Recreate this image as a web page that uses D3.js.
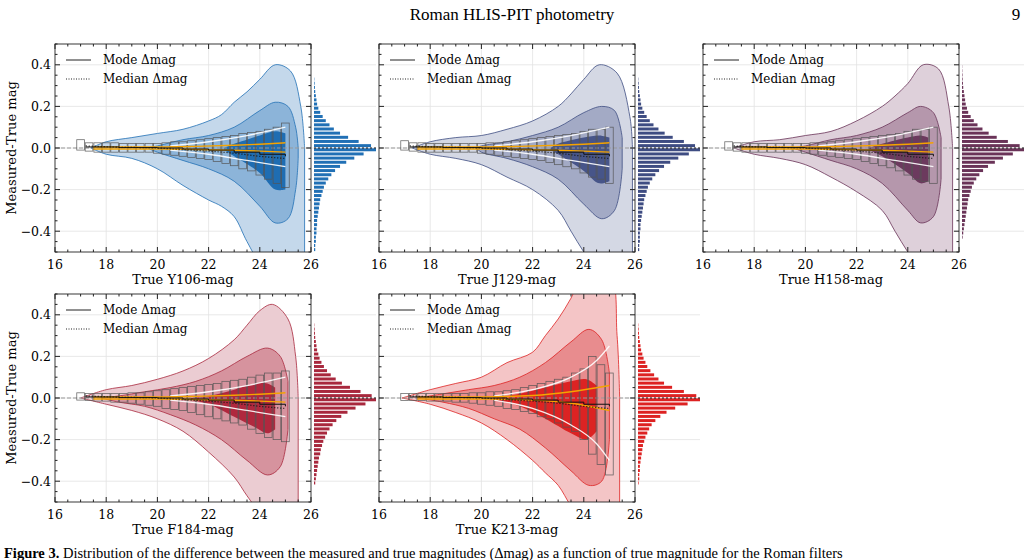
<!DOCTYPE html>
<html><head><meta charset="utf-8">
<script src="https://cdn.jsdelivr.net/npm/d3@7"></script>
<style>body{margin:0;background:#fff}</style></head>
<body><svg id="c" width="1031" height="560"></svg>
<script>
const bands = ["Y106","J129","H158","F184","K213"];
const boxCenters = [17.0,17.33,17.67,18.0,18.33,18.67,19.0,19.33,19.67,20.0,20.33,20.67,21.0,21.33,21.67,22.0,22.33,22.67,23.0,23.33,23.67,24.0,24.33,24.67,25.0];
const xTicks = [16,18,20,22,24,26];
const yTicks = [-0.4,-0.2,0.0,0.2,0.4];
const histBins = [-0.49,-0.47,-0.45,-0.43,-0.41,-0.39,-0.37,-0.35,-0.33,-0.31,-0.29,-0.27,-0.25,-0.23,-0.21,-0.19,-0.17,-0.15,-0.13,-0.11,-0.09,-0.07,-0.05,-0.03,-0.01,0.01,0.03,0.05,0.07,0.09,0.11,0.13,0.15,0.17,0.19,0.21,0.23,0.25,0.27,0.29,0.31,0.33,0.35,0.37,0.39,0.41,0.43,0.45,0.47,0.49];

const outerY106 = [[17.4,0,0],[18,0.03,-0.03],[19,0.05,-0.05],[20,0.07,-0.1],[21,0.09,-0.18],[22,0.13,-0.25],[22.5,0.16,-0.28],[23,0.22,-0.33],[23.5,0.27,-0.45],[24,0.33,-0.55],[24.6,0.40,-0.6],[25.2,0.37,-0.6],[25.6,0.2,-0.6],[25.75,0,-0.6]];
const midY106 = [[19.6,0,0],[20,0.01,-0.02],[21,0.04,-0.06],[22,0.06,-0.1],[23,0.1,-0.16],[24,0.18,-0.28],[24.6,0.22,-0.36],[25.1,0.2,-0.34],[25.4,0.1,-0.2],[25.5,0,-0.05]];
const innerY106 = [[22.6,0,-0.01],[23,0.02,-0.04],[24,0.06,-0.12],[24.6,0.08,-0.2],[25,0.07,-0.2]];
const outerJ129 = [[17.3,0,0],[18,0.03,-0.03],[19,0.05,-0.05],[20,0.06,-0.08],[21,0.09,-0.14],[22,0.13,-0.2],[23,0.2,-0.3],[23.5,0.26,-0.4],[24,0.33,-0.5],[24.6,0.4,-0.6],[25.3,0.36,-0.6],[25.8,0.15,-0.6],[25.9,0,-0.6]];
const midJ129 = [[19.8,0,0],[20,0.01,-0.02],[21,0.03,-0.05],[22,0.06,-0.09],[23,0.1,-0.15],[24,0.17,-0.27],[24.7,0.2,-0.34],[25.2,0.18,-0.3],[25.5,0.05,-0.1]];
const innerJ129 = [[22.7,0,-0.01],[23,0.02,-0.03],[24,0.05,-0.11],[24.6,0.06,-0.17],[25,0.05,-0.16]];
const outerH158 = [[17.2,0,0],[18,0.03,-0.03],[19,0.04,-0.05],[20,0.06,-0.08],[21,0.08,-0.14],[22,0.13,-0.21],[23,0.2,-0.3],[23.5,0.25,-0.4],[24,0.31,-0.5],[24.6,0.4,-0.6],[25.2,0.38,-0.6],[25.6,0.2,-0.6],[25.75,0,-0.6]];
const midH158 = [[19.5,0,0],[20,0.01,-0.02],[21,0.04,-0.06],[22,0.06,-0.1],[23,0.1,-0.17],[24,0.17,-0.3],[24.5,0.2,-0.36],[25,0.17,-0.33],[25.3,0.05,-0.15]];
const innerH158 = [[22.5,0,-0.01],[23,0.02,-0.04],[24,0.05,-0.12],[24.5,0.06,-0.17],[24.8,0.05,-0.16]];
const outerF184 = [[17.0,0,0],[18,0.04,-0.03],[19,0.06,-0.06],[20,0.09,-0.1],[21,0.13,-0.16],[22,0.19,-0.26],[23,0.28,-0.38],[23.5,0.35,-0.47],[24,0.42,-0.55],[24.5,0.45,-0.6],[25.1,0.38,-0.6],[25.4,0.2,-0.6],[25.5,0,-0.6]];
const midF184 = [[17.8,0,0],[18.5,0.01,-0.02],[19.5,0.03,-0.04],[20.5,0.05,-0.08],[21.5,0.08,-0.13],[22.5,0.13,-0.2],[23.5,0.2,-0.3],[24.3,0.24,-0.37],[24.8,0.2,-0.33],[25.1,0.08,-0.15]];
const innerF184 = [[21.3,0,-0.01],[22,0.01,-0.03],[23,0.04,-0.09],[23.8,0.07,-0.14],[24.3,0.07,-0.17],[24.6,0.05,-0.15]];
const outerK213 = [[16.9,0,0],[18,0.04,-0.03],[19,0.07,-0.07],[20,0.1,-0.12],[21,0.17,-0.2],[22,0.22,-0.3],[22.5,0.3,-0.36],[23,0.38,-0.42],[23.5,0.48,-0.52],[24,0.6,-0.6],[25,0.6,-0.6],[25.3,0.3,-0.6],[25.4,0,-0.6]];
const midK213 = [[17.5,0,0],[18.5,0.02,-0.02],[19.5,0.04,-0.05],[20.5,0.06,-0.1],[21.5,0.1,-0.15],[22.5,0.17,-0.24],[23.5,0.27,-0.35],[24.2,0.33,-0.42],[24.7,0.28,-0.4],[25,0.12,-0.2]];
const innerK213 = [[20.5,0,-0.01],[21.5,0.02,-0.04],[22.5,0.05,-0.1],[23.5,0.08,-0.17],[24.1,0.09,-0.2],[24.5,0.06,-0.16]];

const boxHiY106 = [0.04,0.025,0.025,0.025,0.025,0.022,0.022,0.022,0.022,0.022,0.025,0.03,0.03,0.035,0.04,0.045,0.05,0.055,0.06,0.07,0.075,0.08,0.09,0.1,0.12];
const boxLoY106 = [-0.01,-0.015,-0.02,-0.02,-0.02,-0.02,-0.02,-0.02,-0.02,-0.025,-0.03,-0.035,-0.04,-0.045,-0.05,-0.055,-0.065,-0.075,-0.085,-0.1,-0.11,-0.13,-0.15,-0.17,-0.19];
const boxHiJ129 = [0.035,0.025,0.025,0.022,0.022,0.022,0.022,0.022,0.022,0.022,0.025,0.025,0.03,0.035,0.04,0.045,0.05,0.055,0.06,0.065,0.07,0.08,0.09,0.09,0.1];
const boxLoJ129 = [-0.01,-0.015,-0.02,-0.02,-0.02,-0.02,-0.02,-0.02,-0.02,-0.025,-0.03,-0.035,-0.04,-0.045,-0.05,-0.055,-0.06,-0.07,-0.08,-0.09,-0.1,-0.12,-0.14,-0.15,-0.17];
const boxHiH158 = [0.03,0.025,0.025,0.022,0.022,0.022,0.022,0.022,0.022,0.022,0.025,0.025,0.03,0.035,0.04,0.045,0.05,0.055,0.06,0.065,0.07,0.08,0.09,0.09,0.1];
const boxLoH158 = [-0.01,-0.015,-0.02,-0.02,-0.02,-0.02,-0.02,-0.02,-0.02,-0.025,-0.03,-0.035,-0.04,-0.045,-0.05,-0.055,-0.065,-0.075,-0.085,-0.095,-0.11,-0.13,-0.15,-0.16,-0.17];
const boxHiF184 = [0.025,0.022,0.022,0.022,0.022,0.022,0.025,0.025,0.03,0.035,0.04,0.045,0.05,0.055,0.06,0.065,0.07,0.08,0.085,0.09,0.1,0.11,0.12,0.12,0.13];
const boxLoF184 = [-0.01,-0.012,-0.015,-0.015,-0.02,-0.02,-0.025,-0.03,-0.035,-0.04,-0.05,-0.055,-0.06,-0.07,-0.08,-0.09,-0.1,-0.11,-0.12,-0.13,-0.15,-0.17,-0.19,-0.2,-0.21];
const boxHiK213 = [0.022,0.022,0.022,0.022,0.022,0.022,0.022,0.022,0.025,0.025,0.03,0.03,0.035,0.04,0.05,0.06,0.07,0.08,0.09,0.1,0.12,0.14,0.2,0.16,0.12];
const boxLoK213 = [-0.012,-0.012,-0.012,-0.015,-0.015,-0.015,-0.02,-0.02,-0.025,-0.03,-0.035,-0.04,-0.05,-0.055,-0.065,-0.075,-0.09,-0.1,-0.12,-0.14,-0.16,-0.2,-0.27,-0.32,-0.37];

const modeLine = [[17.2,0.005],[18.5,0.002],[20,0],[21,-0.005],[22,-0.01],[23,-0.02],[24,-0.03],[25,-0.04]];
const medianLine = [[17.2,0.01],[18.5,0.004],[20,0],[21,-0.008],[22,-0.015],[23,-0.025],[24,-0.04],[25,-0.05]];
const orangeHi = [[17.5,0.005],[20,0.005],[21.5,0.008],[23,0.013],[24,0.018],[25,0.025]];
const orangeLo = [[17.5,-0.005],[20,-0.005],[21.5,-0.007],[23,-0.011],[24,-0.015],[25,-0.02]];
const whiteHiA = [[20.5,0.01],[22,0.03],[23.5,0.06],[25,0.1]];
const whiteLoA = [[20.5,-0.01],[22,-0.03],[23.5,-0.06],[25,-0.09]];
const whiteHiK = [[20.5,0.01],[22,0.04],[23.5,0.1],[24.5,0.18],[25,0.25]];
const whiteLoK = [[20.5,-0.01],[22,-0.05],[23.5,-0.13],[24.5,-0.22],[25,-0.3]];
const orangeHiK = [[17.5,0.005],[20,0.005],[22,0.012],[23.5,0.03],[25,0.06]];
const orangeLoK = [[17.5,-0.005],[20,-0.005],[22,-0.01],[23.5,-0.025],[25,-0.06]];

const histY106 = [0.02,0.02,0.03,0.03,0.04,0.04,0.05,0.05,0.06,0.07,0.08,0.09,0.1,0.12,0.14,0.16,0.19,0.23,0.28,0.34,0.42,0.52,0.65,0.8,1.0,0.92,0.72,0.55,0.42,0.32,0.25,0.19,0.14,0.1,0.07,0.05,0.04,0.03,0.02,0.015,0.01,0.005,0,0,0,0,0,0,0,0];
const histJ129 = [0.02,0.02,0.03,0.03,0.03,0.04,0.04,0.05,0.06,0.07,0.08,0.09,0.1,0.12,0.14,0.16,0.19,0.23,0.28,0.34,0.42,0.52,0.65,0.82,1.0,0.92,0.74,0.56,0.43,0.33,0.25,0.19,0.14,0.1,0.07,0.05,0.04,0.03,0.02,0.015,0.01,0.005,0,0,0,0,0,0,0,0];
const histH158 = [0,0,0,0.01,0.02,0.03,0.04,0.05,0.06,0.07,0.08,0.09,0.1,0.12,0.14,0.16,0.19,0.23,0.28,0.34,0.42,0.53,0.66,0.82,1.0,0.93,0.74,0.56,0.43,0.33,0.25,0.19,0.14,0.1,0.08,0.06,0.05,0.04,0.03,0.02,0.015,0.01,0.008,0.005,0.003,0,0,0,0,0];
const histF184 = [0,0,0,0,0.02,0.03,0.04,0.05,0.06,0.07,0.08,0.1,0.11,0.13,0.15,0.18,0.21,0.25,0.3,0.36,0.44,0.54,0.67,0.83,1.0,0.93,0.75,0.58,0.45,0.35,0.27,0.21,0.16,0.12,0.09,0.07,0.05,0.04,0.03,0.02,0.015,0.01,0.005,0,0,0,0,0,0,0];
const histK213 = [0,0,0,0,0.01,0.02,0.02,0.03,0.03,0.04,0.05,0.06,0.07,0.08,0.1,0.12,0.15,0.18,0.22,0.28,0.36,0.46,0.6,0.8,1.0,0.94,0.74,0.55,0.42,0.33,0.26,0.2,0.15,0.12,0.09,0.07,0.05,0.04,0.03,0.02,0.015,0.01,0.005,0,0,0,0,0,0,0];

const panels = [
 {band:"Y106",col:0,row:0,outer:outerY106,mid:midY106,inner:innerY106,hi:boxHiY106,lo:boxLoY106,hist:histY106,c:["#c4d8eb","#8cb4d9","#1f6db2","#2170b5"],wh:whiteHiA,wl:whiteLoA,oh:orangeHi,ol:orangeLo},
 {band:"J129",col:1,row:0,outer:outerJ129,mid:midJ129,inner:innerJ129,hi:boxHiJ129,lo:boxLoJ129,hist:histJ129,c:["#d4d8e4","#a3aac5","#475589","#3e4c82"],wh:whiteHiA,wl:whiteLoA,oh:orangeHi,ol:orangeLo},
 {band:"H158",col:2,row:0,outer:outerH158,mid:midH158,inner:innerH158,hi:boxHiH158,lo:boxLoH158,hist:histH158,c:["#ded0da","#b597ac","#6c3a5e","#6a3358"],wh:whiteHiA,wl:whiteLoA,oh:orangeHi,ol:orangeLo},
 {band:"F184",col:0,row:1,outer:outerF184,mid:midF184,inner:innerF184,hi:boxHiF184,lo:boxLoF184,hist:histF184,c:["#ebccd2","#d6939e","#b0283e","#a8283d"],wh:whiteHiA,wl:whiteLoA,oh:orangeHi,ol:orangeLo},
 {band:"K213",col:1,row:1,outer:outerK213,mid:midK213,inner:innerK213,hi:boxHiK213,lo:boxLoK213,hist:histK213,c:["#f4c5c6","#e88c8e","#dc2323","#dd2222"],wh:whiteHiK,wl:whiteLoK,oh:orangeHiK,ol:orangeLoK}
];

const svg = d3.select("#c");
const serif = "DejaVu Serif";
svg.append("text").attr("x",512).attr("y",20).attr("text-anchor","middle").attr("font-family","Liberation Serif").attr("font-size",17).text("Roman HLIS-PIT photometry");
svg.append("text").attr("x",1016).attr("y",20).attr("text-anchor","middle").attr("font-family","Liberation Serif").attr("font-size",17).text("9");
svg.append("text").attr("x",4).attr("y",558).attr("font-family","Liberation Serif").attr("font-size",14.5)
  .html('<tspan font-weight="bold">Figure 3.</tspan>  Distribution of the difference between the measured and true magnitudes (Δmag) as a function of true magnitude for the Roman filters');

const colX = [55,379,703], rowY = [44,294], W = 256, H = 208, HW = 65;

panels.forEach((p,i)=>{
  const x0 = colX[p.col], y0 = rowY[p.row];
  const x = d3.scaleLinear().domain([16,26]).range([x0,x0+W]);
  const y = d3.scaleLinear().domain([-0.5,0.5]).range([y0+H,y0]);
  const g = svg.append("g");
  const cid = "clip"+i;
  svg.append("defs").append("clipPath").attr("id",cid).append("rect").attr("x",x0).attr("y",y0).attr("width",W).attr("height",H);
  g.selectAll(".gx").data(xTicks.slice(1,-1)).join("line").attr("x1",d=>x(d)).attr("x2",d=>x(d)).attr("y1",y0).attr("y2",y0+H).attr("stroke","#e2e2e2").attr("stroke-width",0.8);
  g.selectAll(".gy").data(yTicks).join("line").attr("x1",x0).attr("x2",x0+W+HW).attr("y1",d=>y(d)).attr("y2",d=>y(d)).attr("stroke","#e2e2e2").attr("stroke-width",0.8);
  const pc = g.append("g").attr("clip-path",`url(#${cid})`);
  const area = d3.area().x(d=>x(d[0])).y0(d=>y(d[2])).y1(d=>y(d[1])).curve(d3.curveCatmullRom);
  pc.append("path").attr("d",area(p.outer)).attr("fill",p.c[0]).attr("stroke",p.c[3]).attr("stroke-width",0.8);
  pc.append("path").attr("d",area(p.mid)).attr("fill",p.c[1]).attr("stroke",p.c[3]).attr("stroke-width",0.8);
  pc.append("path").attr("d",area(p.inner)).attr("fill",p.c[2]);
  pc.append("line").attr("x1",x0).attr("x2",x0+W).attr("y1",y(0)).attr("y2",y(0)).attr("stroke","#999").attr("stroke-dasharray","4,2").attr("stroke-width",1);
  const bw = x(16.3)-x(16);
  boxCenters.forEach((c,k)=>{
    pc.append("rect").attr("x",x(c)-bw/2).attr("width",bw).attr("y",y(p.hi[k])).attr("height",y(p.lo[k])-y(p.hi[k]))
      .attr("fill","none").attr("stroke","#555").attr("stroke-width",0.8).attr("opacity",0.85);
  });
  const ln = d3.line().x(d=>x(d[0])).y(d=>y(d[1])).curve(d3.curveMonotoneX);
  pc.append("path").attr("d",ln(p.wh)).attr("fill","none").attr("stroke","#fff").attr("stroke-width",1.3).attr("opacity",0.9);
  pc.append("path").attr("d",ln(p.wl)).attr("fill","none").attr("stroke","#fff").attr("stroke-width",1.3).attr("opacity",0.9);
  pc.append("path").attr("d",ln(p.oh)).attr("fill","none").attr("stroke","#f5a300").attr("stroke-width",1.4);
  pc.append("path").attr("d",ln(p.ol)).attr("fill","none").attr("stroke","#f5a300").attr("stroke-width",1.4);
  pc.append("path").attr("d",d3.line().x(d=>x(d[0])).y(d=>y(d[1])).curve(d3.curveStepAfter)(modeLine)).attr("fill","none").attr("stroke","#111").attr("stroke-width",1);
  pc.append("path").attr("d",ln(medianLine)).attr("fill","none").attr("stroke","#111").attr("stroke-width",1.2).attr("stroke-dasharray","1,2");
  g.append("rect").attr("x",x0).attr("y",y0).attr("width",W).attr("height",H).attr("fill","none").attr("stroke","#222").attr("stroke-width",0.9);
  const minorX = d3.range(16,26.01,0.5), minorY = d3.range(-0.5,0.501,0.05);
  minorX.forEach(v=>{const big = Math.abs(v%2)<1e-6; const L=big?5:2.5;
    g.append("line").attr("x1",x(v)).attr("x2",x(v)).attr("y1",y0+H).attr("y2",y0+H-L).attr("stroke","#222");
    g.append("line").attr("x1",x(v)).attr("x2",x(v)).attr("y1",y0).attr("y2",y0+L).attr("stroke","#222");});
  minorY.forEach(v=>{const big = yTicks.some(t=>Math.abs(t-v)<1e-6); const L=big?5:2.5;
    g.append("line").attr("x1",x0).attr("x2",x0+L).attr("y1",y(v)).attr("y2",y(v)).attr("stroke","#222");
    g.append("line").attr("x1",x0+W).attr("x2",x0+W-L).attr("y1",y(v)).attr("y2",y(v)).attr("stroke","#222");});
  g.selectAll(".xl").data(xTicks).join("text").attr("x",d=>x(d)).attr("y",y0+H+17).attr("text-anchor","middle").attr("font-family",serif).attr("font-size",12.5).text(d=>d);
  g.append("text").attr("x",x(21)).attr("y",y0+H+32).attr("text-anchor","middle").attr("font-family",serif).attr("font-size",13).text(`True ${p.band}-mag`);
  if(p.col===0){
    g.selectAll(".yl").data(yTicks).join("text").attr("x",x0-4).attr("y",d=>y(d)+4.5).attr("text-anchor","end").attr("font-family",serif).attr("font-size",12.5).text(d=>(d<0?"−":"")+Math.abs(d).toFixed(1));
    g.append("text").attr("transform",`translate(16,${y0+H/2}) rotate(-90)`).attr("text-anchor","middle").attr("font-family",serif).attr("font-size",13).text("Measured-True mag");
  }
  g.append("line").attr("x1",x0+11).attr("x2",x0+36).attr("y1",y0+16).attr("y2",y0+16).attr("stroke","#222");
  g.append("line").attr("x1",x0+11).attr("x2",x0+36).attr("y1",y0+35).attr("y2",y0+35).attr("stroke","#222").attr("stroke-dasharray","1,1.5");
  g.append("text").attr("x",x0+48).attr("y",y0+20).attr("font-family",serif).attr("font-size",12).text("Mode Δmag");
  g.append("text").attr("x",x0+48).attr("y",y0+39).attr("font-family",serif).attr("font-size",12).text("Median Δmag");
  const hx = d3.scaleLinear().domain([0,1]).range([x0+W+3,x0+W+HW]);
  const bh = y(0)-y(0.02);
  g.selectAll(".hb").data(p.hist.map((v,k)=>[histBins[k],v]).filter(d=>d[1]>0)).join("rect")
    .attr("x",hx(0)).attr("y",d=>y(d[0]+0.01)+0.3).attr("height",bh-1.2).attr("width",d=>hx(d[1])-hx(0)).attr("fill",p.c[3]);
  g.append("line").attr("x1",hx(0)).attr("x2",x0+W+HW).attr("y1",y(0)).attr("y2",y(0)).attr("stroke","#111").attr("stroke-dasharray","2,2");
});
</script></body></html>
